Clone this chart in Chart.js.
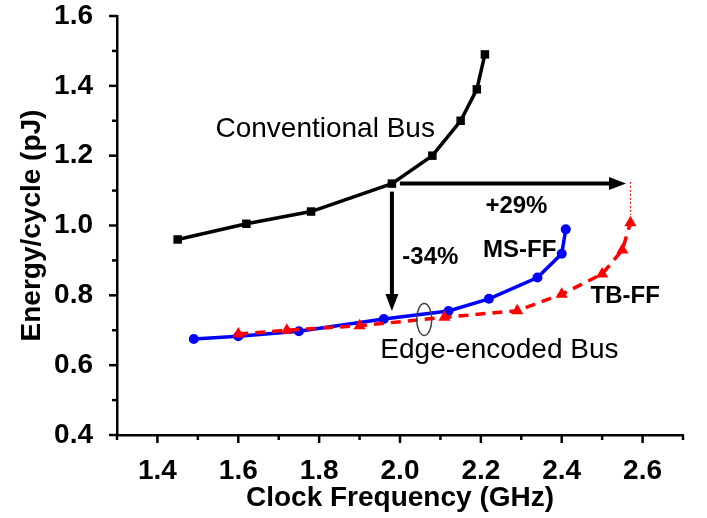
<!DOCTYPE html>
<html>
<head>
<meta charset="utf-8">
<script src="https://cdn.jsdelivr.net/npm/chart.js@4.4.1/dist/chart.umd.min.js"></script>
<style>
  html, body { margin: 0; padding: 0; background: #fff; }
  #wrap { width: 707px; height: 518px; }
</style>
</head>
<body>
<div id="wrap"><canvas id="chart"></canvas></div>
<script>
/**************** Data *************************/

// conventional bus (black squares)
const convFreq   = [1.45, 1.62, 1.78, 1.98, 2.08, 2.15, 2.19, 2.21];
const convEnergy = [0.96, 1.005, 1.04, 1.12, 1.20, 1.30, 1.39, 1.49];

// edge-encoded bus, MS-FF (blue circles)
const msFreq   = [1.49, 1.60, 1.75, 1.96, 2.12, 2.22, 2.34, 2.40, 2.41];
const msEnergy = [0.675, 0.683, 0.697, 0.732, 0.755, 0.79, 0.851, 0.919, 0.989];

// edge-encoded bus, TB-FF (red triangles, dashed)
const tbFreq   = [1.60, 1.72, 1.90, 2.11, 2.29, 2.40, 2.50, 2.55, 2.57];
const tbEnergy = [0.689, 0.70, 0.713, 0.737, 0.756, 0.803, 0.861, 0.93, 1.008];

// tick labels
const xTickValues = [1.4, 1.6, 1.8, 2.0, 2.2, 2.4, 2.6];
const yTickValues = [0.4, 0.6, 0.8, 1.0, 1.2, 1.4, 1.6];

// annotation texts (anchored in data units)
const labelTexts = ["Conventional Bus", "+29%", "MS-FF", "TB-FF", "-34%", "Edge-encoded Bus"];
const labelX     = [1.815, 2.288, 2.296, 2.557, 2.075, 2.246];
const labelY     = [1.275, 1.056, 0.929, 0.796, 0.909, 0.643];
const labelBold  = [false, true, true, true, true, false];

// arrows: start -> tip, in data units
const arrowFrom = [[1.98, 1.12], [1.98, 1.12]];
const arrowTo   = [[2.559, 1.12], [1.98, 0.755]];

const toPoints = (xs, ys) => xs.map((x, i) => ({x: x, y: ys[i]}));

/**************** Plugins *************************/

const FONT = "'Liberation Sans', Arial, sans-serif";

// draw tick marks (major + minor) outside the axes
const tickMarks = {
    id: 'tickMarks',
    afterDraw(chart) {
        const ctx = chart.ctx;
        const xs = chart.scales.x, ys = chart.scales.y;
        const area = chart.chartArea;
        ctx.save();
        ctx.strokeStyle = '#000';
        ctx.lineWidth = 2.5;
        for (let i = 0; i <= 14; i++) {
            const v = 1.3 + i * 0.1;
            const px = xs.getPixelForValue(v);
            const len = (i % 2 === 1) ? 8 : 5;
            ctx.beginPath();
            ctx.moveTo(px, area.bottom);
            ctx.lineTo(px, area.bottom + len);
            ctx.stroke();
        }
        for (let i = 0; i <= 12; i++) {
            const v = 0.4 + i * 0.1;
            const py = ys.getPixelForValue(v);
            const len = (i % 2 === 0) ? 8 : 5;
            ctx.beginPath();
            ctx.moveTo(area.left, py);
            ctx.lineTo(area.left - len, py);
            ctx.stroke();
        }
        ctx.restore();
    }
};

function drawArrow(ctx, x1, y1, x2, y2) {
    const ang = Math.atan2(y2 - y1, x2 - x1);
    const head = 17, half = 6.5;
    const bx = x2 - head * Math.cos(ang), by = y2 - head * Math.sin(ang);
    ctx.beginPath();
    ctx.moveTo(x1, y1);
    ctx.lineTo(bx, by);
    ctx.stroke();
    ctx.beginPath();
    ctx.moveTo(x2, y2);
    ctx.lineTo(bx + half * Math.sin(ang), by - half * Math.cos(ang));
    ctx.lineTo(bx - half * Math.sin(ang), by + half * Math.cos(ang));
    ctx.closePath();
    ctx.fill();
}

const notes = {
    id: 'notes',
    afterDatasetsDraw(chart) {
        const ctx = chart.ctx;
        const xs = chart.scales.x, ys = chart.scales.y;
        ctx.save();

        // arrows
        ctx.strokeStyle = '#000';
        ctx.fillStyle = '#000';
        ctx.lineWidth = 4;
        const ox = xs.getPixelForValue(arrowFrom[0][0]);
        const oy = ys.getPixelForValue(arrowFrom[0][1]);
        drawArrow(ctx, ox + 8, oy, xs.getPixelForValue(arrowTo[0][0]), ys.getPixelForValue(arrowTo[0][1]));
        drawArrow(ctx, ox, oy + 8, xs.getPixelForValue(arrowTo[1][0]), ys.getPixelForValue(arrowTo[1][1]));

        // thin red dotted drop line at end of +29% arrow
        ctx.strokeStyle = '#ff0000';
        ctx.lineWidth = 1;
        ctx.setLineDash([2, 2]);
        ctx.beginPath();
        ctx.moveTo(xs.getPixelForValue(2.57), ys.getPixelForValue(1.125));
        ctx.lineTo(xs.getPixelForValue(2.57), ys.getPixelForValue(1.03));
        ctx.stroke();
        ctx.setLineDash([]);

        // ellipse around edge-encoded curves
        ctx.strokeStyle = '#444';
        ctx.lineWidth = 1.5;
        ctx.beginPath();
        ctx.ellipse(xs.getPixelForValue(2.06), ys.getPixelForValue(0.731), 7.5, 16, 0, 0, Math.PI * 2);
        ctx.stroke();

        // texts
        ctx.fillStyle = '#000';
        ctx.textAlign = 'center';
        ctx.textBaseline = 'middle';
        for (let i = 0; i < labelTexts.length; i++) {
            ctx.font = labelBold[i] ? `bold 24px ${FONT}` : `28px ${FONT}`;
            ctx.fillText(labelTexts[i], xs.getPixelForValue(labelX[i]), ys.getPixelForValue(labelY[i]));
        }
        ctx.restore();
    }
};

/**************** Chart *************************/

const ctx = document.getElementById('chart');

new Chart(ctx, {
    type: 'line',
    data: {
        datasets: [{
            label: 'Conventional Bus',
            data: toPoints(convFreq, convEnergy),
            borderColor: '#000',
            backgroundColor: '#000',
            borderWidth: 3.5,
            pointStyle: 'rect',
            pointRadius: 6,
            pointBorderWidth: 0,
            order: 3
        }, {
            label: 'MS-FF',
            data: toPoints(msFreq, msEnergy),
            borderColor: '#0000ff',
            backgroundColor: '#0000ff',
            borderWidth: 3.5,
            pointStyle: 'circle',
            pointRadius: 5,
            pointBorderWidth: 0,
            order: 2
        }, {
            label: 'TB-FF',
            data: toPoints(tbFreq, tbEnergy),
            borderColor: '#ff0000',
            backgroundColor: '#ff0000',
            borderWidth: 3.5,
            borderDash: [10, 7],
            pointStyle: 'triangle',
            pointRadius: 7,
            pointBorderWidth: 0,
            order: 1
        }]
    },
    options: {
        responsive: true,
        maintainAspectRatio: false,
        animation: false,
        events: [],
        elements: { line: { tension: 0 } },
        layout: { padding: { top: 16, right: 24, left: 0, bottom: 0 } },
        plugins: {
            legend: { display: false },
            tooltip: { enabled: false }
        },
        scales: {
            x: {
                type: 'linear',
                min: 1.3,
                max: 2.7,
                afterBuildTicks: s => { s.ticks = xTickValues.map(v => ({value: v})); },
                afterFit: s => { s.height = 83; s.paddingLeft = 0; s.paddingRight = 0; },
                grid: { display: false },
                border: { display: true, color: '#000', width: 2.5 },
                ticks: {
                    padding: 11,
                    color: '#000',
                    font: { family: FONT, size: 28, weight: 'bold' },
                    callback: v => v.toFixed(1)
                },
                title: {
                    display: true,
                    text: 'Clock Frequency (GHz)',
                    color: '#000',
                    font: { family: FONT, size: 28, weight: 'bold' },
                    padding: { top: 0, bottom: 3 }
                }
            },
            y: {
                type: 'linear',
                min: 0.4,
                max: 1.6,
                afterBuildTicks: s => { s.ticks = yTickValues.map(v => ({value: v})); },
                afterFit: s => { s.width = 117; s.paddingTop = 0; s.paddingBottom = 0; },
                grid: { display: false },
                border: { display: true, color: '#000', width: 2.5 },
                ticks: {
                    padding: 16,
                    color: '#000',
                    font: { family: FONT, size: 28, weight: 'bold' },
                    callback: v => v.toFixed(1)
                },
                title: {
                    display: true,
                    text: 'Energy/cycle (pJ)',
                    color: '#000',
                    font: { family: FONT, size: 28, weight: 'bold' },
                    padding: { top: 15, bottom: 0 }
                }
            }
        }
    },
    plugins: [tickMarks, notes]
});
</script>
</body>
</html>
